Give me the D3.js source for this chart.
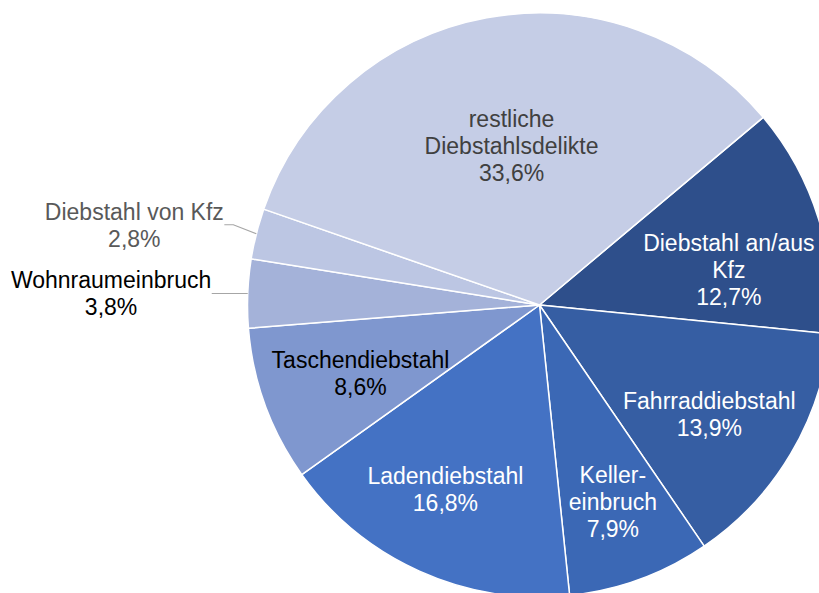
<!DOCTYPE html>
<html>
<head>
<meta charset="utf-8">
<script src="https://cdn.jsdelivr.net/npm/d3@7"></script>
<style>
	body { margin: 0; background: #ffffff; }
	svg { display: block; font-family: 'Liberation Sans', Arial, sans-serif; }
</style>
</head>
<body>
<script>
'use strict';

// Slices in clockwise order, starting at the upper right edge of "restliche"
const categories = ['Diebstahl an/aus\nKfz', 'Fahrraddiebstahl', 'Keller-\neinbruch', 'Ladendiebstahl', 'Taschendiebstahl', 'Wohnraumeinbruch', 'Diebstahl von Kfz', 'restliche\nDiebstahlsdelikte'];
const shares = [12.7, 13.9, 7.9, 16.8, 8.6, 3.8, 2.8, 33.6];
const sliceColors = ['#2e4f8b', '#365ea3', '#3b68b5', '#4472c4', '#7f97cf', '#a4b2d9', '#bcc6e3', '#c5cde6'];
const textColors = ['#ffffff', '#ffffff', '#ffffff', '#ffffff', '#000000', '#000000', '#595959', '#404040'];

const DIMENSIONS = {
	'width' : 819,
	'height': 593,
	'cx'    : 539.5,
	'cy'    : 305,
	'radius': 292
};
const FONT_SIZE = 23;
const LINE_HEIGHT = 27;

// Manual label moves like the ones done in the original chart
const labelNudge = { 0: [-6, 25], 1: [-6, 5], 2: [3, 5], 3: [-10, -2], 4: [13, -2], 7: [9, 42] };
// Labels placed outside the pie with a leader line
const outsideLabel = { 5: [-36, 0], 6: [-32, -9] };

let data = categories.map((c, i) => ({ name: c, share: shares[i], color: sliceColors[i], text: textColors[i], index: i }));

let startAngle = 50 * Math.PI / 180;
let pie = d3.pie().sort(null).value((d) => d.share).startAngle(startAngle).endAngle(startAngle + 2 * Math.PI);
let arcs = pie(data);

let arc = d3.arc().innerRadius(0).outerRadius(DIMENSIONS.radius);
let labelArc = d3.arc().innerRadius(DIMENSIONS.radius * 0.7).outerRadius(DIMENSIONS.radius * 0.7);
let edgeArc = d3.arc().innerRadius(DIMENSIONS.radius).outerRadius(DIMENSIONS.radius);

let svg = d3.select('body').append('svg').attr('width', DIMENSIONS.width).attr('height', DIMENSIONS.height);
let chart = svg.append('g').attr('transform', 'translate(' + DIMENSIONS.cx + ', ' + DIMENSIONS.cy + ')');

chart.selectAll('path.slice')
	.data(arcs)
	.enter()
	.append('path')
	.attr('class', 'slice')
	.attr('d', arc)
	.attr('fill', (d) => d.data.color)
	.attr('stroke', '#ffffff')
	.attr('stroke-width', 1.5)
	.attr('stroke-linejoin', 'round');

let formatShare = (v) => v.toFixed(1).replace('.', ',') + '%';

arcs.forEach((d) => {
	let i = d.data.index;
	let lines = d.data.name.split('\n').concat([formatShare(d.data.share)]);
	let g = chart.append('g').attr('class', 'label');

	let text = g.append('text')
		.attr('text-anchor', 'middle')
		.attr('font-size', FONT_SIZE)
		.attr('fill', d.data.text);
	lines.forEach((line, k) => {
		text.append('tspan')
			.attr('x', 0)
			.attr('y', (k - (lines.length - 1) / 2) * LINE_HEIGHT + FONT_SIZE * 0.36)
			.text(line);
	});

	if (outsideLabel[i]) {
		let p = edgeArc.centroid(d);
		let end = [p[0] + outsideLabel[i][0], p[1] + outsideLabel[i][1]];
		chart.append('polyline')
			.attr('points', [p, [end[0] + 9, end[1]], end].map((q) => q.join(',')).join(' '))
			.attr('fill', 'none')
			.attr('stroke', '#a6a6a6')
			.attr('stroke-width', 1.2);
		let w = g.node().getBBox().width;
		g.attr('transform', 'translate(' + (end[0] - 0.5 - w / 2) + ', ' + end[1] + ')');
	} else {
		let c = labelArc.centroid(d);
		let n = labelNudge[i] || [0, 0];
		g.attr('transform', 'translate(' + (c[0] + n[0]) + ', ' + (c[1] + n[1]) + ')');
	}
});
</script>
</body>
</html>
